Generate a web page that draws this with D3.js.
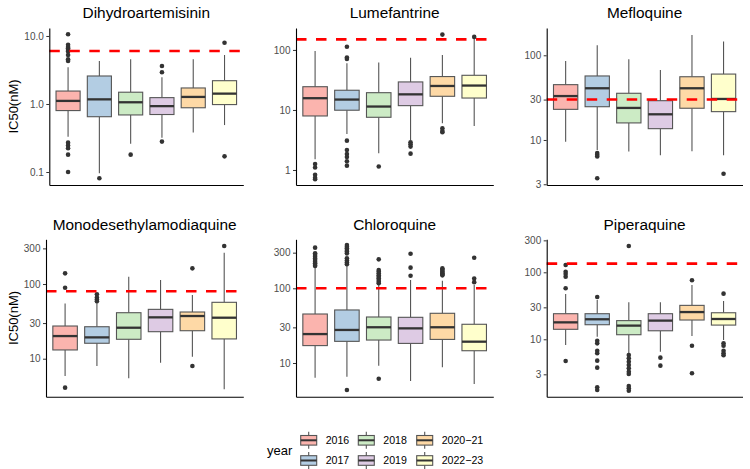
<!DOCTYPE html>
<html><head><meta charset="utf-8">
<script src="https://cdn.jsdelivr.net/npm/d3@7"></script>
<style>
body{margin:0;background:#fff}
svg{display:block;font-family:"Liberation Sans",Arial,Helvetica,sans-serif}
</style>
</head><body>
<svg id="chart" width="750" height="469"></svg>
<script>
// ---------- data ----------
const years = ["2016","2017","2018","2019","2020-21","2022-23"];
const yearLabels = ["2016","2017","2018","2019","2020\u221221","2022\u221223"];
const yearColors = ["#FBB4AE","#B3CDE3","#CCEBC5","#DECBE4","#FED9A6","#FFFFCC"];
const drugs = ["Dihydroartemisinin","Lumefantrine","Mefloquine","Monodesethylamodiaquine","Chloroquine","Piperaquine"];
const thresholds = [6,150,30,80,100,135];
const yTicks = [[0.1,1,10],[1,10,100],[3,10,30,100],[10,30,100,300],[10,30,100,300],[3,10,30,100,300]];
const yDomains = [[0.0644,13.1],[0.562,232],[2.94,210],[3.1,397],[3.54,453],[1.39,311]];

// [lower whisker, q1, median, q3, upper whisker] per year
const dhaStats = [[0.33,0.80,1.11,1.55,3.47],[0.096,0.65,1.17,2.58,4.29],[0.26,0.69,1.06,1.49,4.54],[0.32,0.70,0.93,1.24,2.47],[0.38,0.88,1.27,1.72,4.54],[0.49,0.98,1.42,2.20,5.25]];
const dhaOutliers = [[10.6,7.4,6.9,6.6,6.2,5.9,5.25,4.54,4.3,0.27,0.246,0.223,0.18,0.1],[0.081],[0.18],[3.62,2.93,0.28],[],[7.96,0.17]];

const lumStats = [[1.51,7.94,15.7,24.4,96],[3.98,9.9,14.9,21.3,60],[1.9,7.55,11.4,19.4,61.5],[3.16,11.8,18.2,29.3,74.4],[6.0,16.9,25.1,36,82.5],[5.4,15.8,25.5,37.8,155]];
const lumOutliers = [[1.26,1.1,0.83,0.74,0.70],[113,74.6,70.8,3.08,2.15,1.85,1.65,1.40,1.18],[1.14],[2.89,2.68,2.45,1.87],[180,4.95,4.47,4.25],[165]];

const mefStats = [[9.55,23,33,45,85.7],[7.6,24.7,40.8,57,131],[7.3,15.9,23.9,35.6,89.8],[6.6,13.6,20.1,29.1,67],[7.35,23.7,40.8,55.8,174],[6.6,21.6,30.5,60,145]];
const mefOutliers = [[],[7.0,6.7,6.4,3.53],[],[],[],[4.0]];

const mdaqStats = [[5.86,13.1,20.1,27.4,55],[7.98,16.1,19.3,26.8,55],[5.46,18.2,26,41.3,125],[8.84,23,35.8,45.8,113],[10.6,23.7,37.3,42.2,71.3],[3.9,18.4,35.4,56.9,262]];
const mdaqOutliers = [[139,89,4.1],[72.8,66,62,58.6],[],[],[162,7.98],[323]];

const cqStats = [[6.36,17.1,24.4,45.3,190],[6.56,19.5,27.7,51.3,199],[9.2,20.3,30.1,41.3,111],[5.74,18.3,29.1,40.9,129],[8.76,20.7,30.1,46.3,126],[5.24,14.6,19.3,33,111]];
const cqOutliers = [[350,294,280,265,250,239,226,216,205,199],[380,360,343,326,310,294,252,236,222,210,4.35],[244,176,168,159,150,143,136,129,122,117,6.17],[290,189,147],[185,178,171,165,159,154,149],[257,135,121]];

const ppqStats = [[8.2,14.1,17.9,24.1,47.4],[10.9,16.5,19.9,24.1,38.6],[6.18,11.7,16,19,35.6],[6.53,13.4,19,24.1,35.6],[11.2,19.4,25.5,32.1,64.6],[9.77,16.3,20.1,24.9,37.3]];
const ppqOutliers = [[128.5,102,94.5,86,57.7,4.74],[42.8,9.5,8.7,6.76,6.18,4.8,3.77,1.92,1.75],[247,5.83,5.2,4.63,4.13,3.69,3.28,3.03,2.01,1.86,1.71],[5.32,4.04],[76,8.0,3.11],[48,8.7,8.0,6.76,6.17,5.77]];

const allStats = [dhaStats,lumStats,mefStats,mdaqStats,cqStats,ppqStats];
const allOutliers = [dhaOutliers,lumOutliers,mefOutliers,mdaqOutliers,cqOutliers,ppqOutliers];

// ---------- layout ----------
const panels = [
  {l:49.3, r:243.3, t:28, b:185, titleY:18.3},
  {l:296, r:493.3, t:28, b:185, titleY:18.3},
  {l:546.7, r:742.5, t:28, b:185, titleY:18.3},
  {l:46, r:243.3, t:239.3, b:396.7, titleY:229.5},
  {l:296, r:493.3, t:239.3, b:396.7, titleY:229.5},
  {l:546.7, r:742.5, t:239.3, b:396.7, titleY:229.5}
];

const svg = d3.select("#chart");
const boxStroke = "#555555", medStroke = "#333333";

drugs.forEach((drug, i) => {
  const p = panels[i];
  const g = svg.append("g");
  const x = d3.scalePoint().domain(years).range([p.l, p.r]).padding(0.6);
  const y = d3.scaleLog().domain(yDomains[i]).range([p.b, p.t]);
  const bw = x.step() * 0.77;
  const fmt = i === 0 ? d3.format(".1f") : d3.format("d");

  // boxes
  const stats = allStats[i], outs = allOutliers[i];
  years.forEach((yr, j) => {
    const s = stats[j], cx = x(yr);
    const bg = g.append("g");
    bg.append("line").attr("x1",cx).attr("x2",cx).attr("y1",y(s[3])).attr("y2",y(s[4]))
      .attr("stroke",boxStroke).attr("stroke-width",1.1);
    bg.append("line").attr("x1",cx).attr("x2",cx).attr("y1",y(s[0])).attr("y2",y(s[1]))
      .attr("stroke",boxStroke).attr("stroke-width",1.1);
    bg.append("rect").attr("x",cx-bw/2).attr("width",bw)
      .attr("y",y(s[3])).attr("height",y(s[1])-y(s[3]))
      .attr("fill",yearColors[j]).attr("stroke",boxStroke).attr("stroke-width",1.1);
    bg.append("line").attr("x1",cx-bw/2).attr("x2",cx+bw/2).attr("y1",y(s[2])).attr("y2",y(s[2]))
      .attr("stroke",medStroke).attr("stroke-width",2.3);
    bg.selectAll("circle").data(outs[j]).join("circle")
      .attr("cx",cx).attr("cy",d=>y(d)).attr("r",2.3).attr("fill","#333333");
  });

  // threshold line
  g.append("line").attr("x1",p.l).attr("x2",p.r)
    .attr("y1",y(thresholds[i])).attr("y2",y(thresholds[i]))
    .attr("stroke","#FF0000").attr("stroke-width",2.6).attr("stroke-dasharray","10.5,9.5");

  // axes
  const ya = g.append("g").attr("transform",`translate(${p.l},0)`)
    .call(d3.axisLeft(y).tickValues(yTicks[i]).tickFormat(fmt).tickSize(3).tickSizeOuter(0).tickPadding(2.5));
  ya.select(".domain").attr("stroke","#000").attr("stroke-width",1.1);
  ya.selectAll(".tick line").attr("stroke","#333").attr("stroke-width",1);
  ya.selectAll(".tick text").attr("fill","#4D4D4D").attr("font-size","10px")
    .attr("font-family","'Liberation Sans',Arial,sans-serif");

  const xa = g.append("g").attr("transform",`translate(0,${p.b})`)
    .call(d3.axisBottom(x).tickValues([]).tickSizeOuter(0));
  xa.select(".domain").attr("stroke","#000").attr("stroke-width",1.1);

  // title
  g.append("text").attr("x",(p.l+p.r)/2).attr("y",p.titleY).attr("text-anchor","middle")
    .attr("font-size","15.4px").attr("fill","#000").text(drug);

  // y title for left column
  if (i % 3 === 0) {
    g.append("text").attr("transform",`translate(18,${(p.t+p.b)/2}) rotate(-90)`)
      .attr("text-anchor","middle").attr("font-size","13px").attr("fill","#000").text("IC50(nM)");
  }
});

// ---------- legend ----------
const lg = svg.append("g");
lg.append("text").attr("x",267).attr("y",454.5).attr("font-size","13px").attr("fill","#000").text("year");
const legX = [300.7, 358.3, 416.7], legY = [440.3, 460.5];
years.forEach((yr, j) => {
  const kx = legX[Math.floor(j/2)], ky = legY[j%2];
  const cx = kx + 8;
  lg.append("line").attr("x1",cx).attr("x2",cx).attr("y1",ky-8.5).attr("y2",ky+8.5)
    .attr("stroke",boxStroke).attr("stroke-width",1.1);
  lg.append("rect").attr("x",kx).attr("y",ky-4.8).attr("width",16).attr("height",9.6)
    .attr("fill",yearColors[j]).attr("stroke",boxStroke).attr("stroke-width",1.1);
  lg.append("line").attr("x1",kx).attr("x2",kx+16).attr("y1",ky).attr("y2",ky)
    .attr("stroke",medStroke).attr("stroke-width",2);
  lg.append("text").attr("x",kx+25).attr("y",ky+3.7).attr("font-size","10.6px").attr("fill","#000")
    .text(yearLabels[j]);
});
</script>
</body></html>
